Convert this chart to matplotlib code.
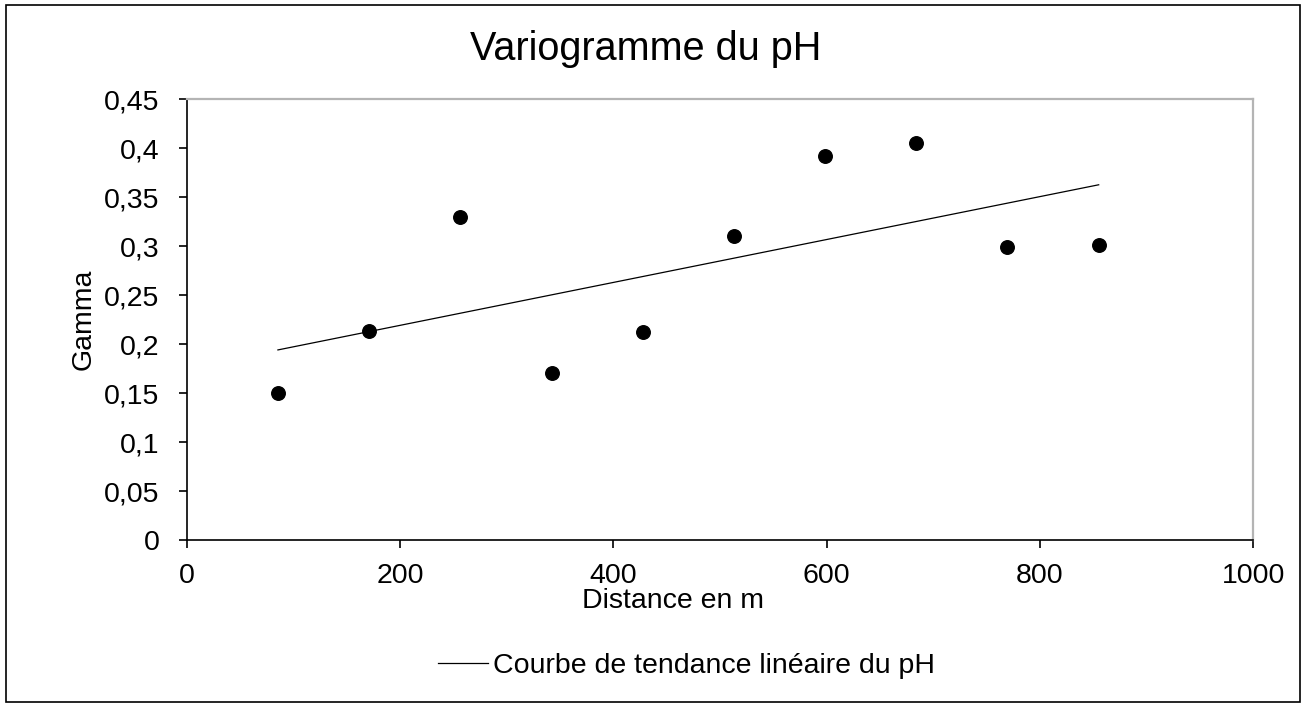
import numpy as np
import matplotlib.pyplot as plt
from matplotlib.patches import Rectangle

# Variogramme expérimental du pH
distance = [85.5, 171, 256.5, 342, 427.5, 513, 598.5, 684, 769.5, 855]
gamma = [0.150, 0.214, 0.330, 0.171, 0.213, 0.310, 0.392, 0.405, 0.299, 0.301]

x_ticks = [0, 200, 400, 600, 800, 1000]
y_ticks = [0, 0.05, 0.1, 0.15, 0.2, 0.25, 0.3, 0.35, 0.4, 0.45]
y_labels = ['0', '0,05', '0,1', '0,15', '0,2', '0,25', '0,3', '0,35', '0,4', '0,45']

plt.rcParams['font.family'] = ['Liberation Sans', 'DejaVu Sans']

fig = plt.figure(figsize=(13.03, 7.04), dpi=100)
ax = fig.add_axes([0.1433, 0.2325, 0.8186, 0.6265])

# Courbe de tendance linéaire (moindres carrés)
pente, origine = np.polyfit(distance, gamma, 1)
xt = np.array([distance[0], distance[-1]])
ax.plot(xt, pente * xt + origine, color='black', lw=0.9,
        label='Courbe de tendance linéaire du pH')
ax.scatter(distance, gamma, s=95, color='black', zorder=5)

ax.set_xlim(0, 1000)
ax.set_ylim(0, 0.45)
ax.set_xticks(x_ticks)
ax.set_xticklabels([str(t) for t in x_ticks])
ax.set_yticks(y_ticks)
ax.set_yticklabels(y_labels)
ax.tick_params(axis='both', labelsize=20.5, direction='out', length=6, width=1.2)
ax.tick_params(axis='y', pad=13.5)
ax.tick_params(axis='x', pad=10)

for s in ['top', 'right']:
    ax.spines[s].set_color('#b4b4b4')
    ax.spines[s].set_linewidth(1.6)
for s in ['left', 'bottom']:
    ax.spines[s].set_color('black')
    ax.spines[s].set_linewidth(1.2)

ax.set_title('Variogramme du pH', fontsize=28.5, pad=28, x=0.4306)
ax.set_xlabel('Distance en m', fontsize=20.5)
ax.xaxis.set_label_coords((672.7 - 186.7) / 1066.6, -0.107)
ax.set_ylabel('Gamma', fontsize=20.5)
ax.yaxis.set_label_coords(-0.0846, 0.5)

fig.legend(loc='center', bbox_to_anchor=(686.7 / 1303, 1 - 666 / 704), frameon=False,
           fontsize=20.5, handlelength=1.75, handletextpad=0.2)

# cadre du graphique
fig.patches.append(Rectangle((5.5 / 1303, 2.0 / 704), 1294.5 / 1303, 697 / 704,
                             transform=fig.transFigure, fill=False,
                             edgecolor='black', lw=1.2))

fig.savefig('out.png', dpi=100)
